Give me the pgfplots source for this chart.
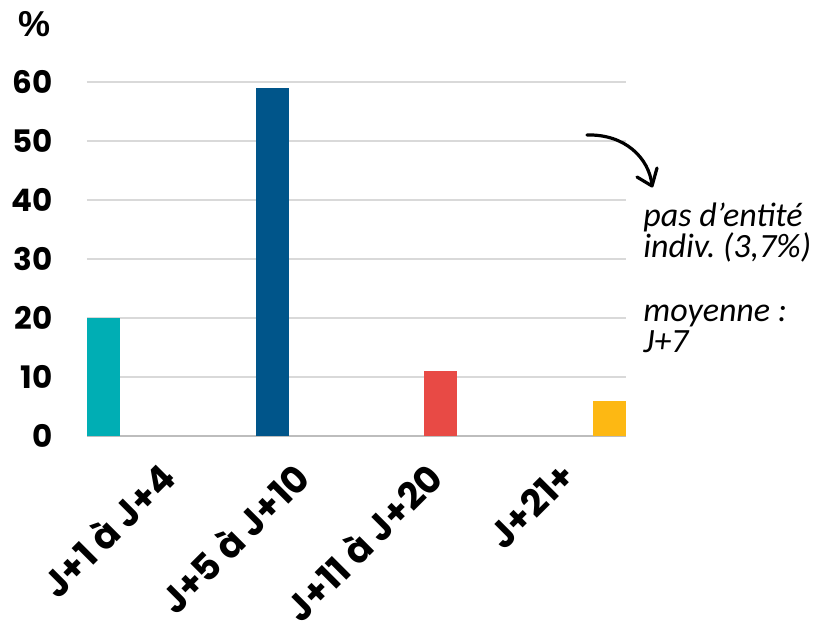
\documentclass[border=0pt]{standalone}
\usepackage{fontspec}
\setmainfont{Liberation Sans}
\newfontfamily\pop{Poppins}
\newfontfamily\carl{Carlito}
\usepackage{pgfplots}
\pgfplotsset{compat=1.18}
\definecolor{cteal}{HTML}{00AEB4}
\definecolor{cblue}{HTML}{00558A}
\definecolor{cred}{HTML}{E84A45}
\definecolor{cyel}{HTML}{FDB813}
\definecolor{cgrid}{HTML}{D9D9D9}
\definecolor{caxis}{HTML}{BDBDBD}
\frenchspacing

\begin{document}
\begin{tikzpicture}
% page frame, in pixels of the reference
\begin{scope}[x=0.5pt,y=-0.5pt,shift={(-43.5pt,218pt)}]
\useasboundingbox (0,0) rectangle (840,624);
\end{scope}

\begin{axis}[
    at={(0,0)}, anchor=south west,
    scale only axis, width=269.5pt, height=177pt,
    xmin=-0.0978, xmax=3.0978,
    ymin=0, ymax=60,
    axis lines*=left,
    y axis line style={draw=none},
    x axis line style={draw=caxis, line width=0.9pt},
    ytick={0,10,...,60},
    xtick={0.18,0.975,1.765,2.56},
    xticklabels={J+1 à J+4, J+5 à J+10, J+11 à J+20, J+21+},
    major tick length=0pt,
    ymajorgrids,
    grid style={cgrid, line width=0.6pt},
    /pgf/number format/assume math mode=true,
    yticklabel style={font=\pop\bfseries\fontsize{15.5}{16}\selectfont,
        anchor=east, inner sep=0pt, xshift=-17pt},
    xticklabel style={font=\pop\bfseries\fontsize{18.5}{18.5}\selectfont,
        rotate=45, anchor=north east, inner sep=0pt, yshift=-16pt},
]
\addplot[ybar, bar width=0.1957, bar shift=0pt, fill=cteal, draw=none] coordinates {(0,20)};
\addplot[ybar, bar width=0.1957, bar shift=0pt, fill=cblue, draw=none] coordinates {(1,59)};
\addplot[ybar, bar width=0.1957, bar shift=0pt, fill=cred, draw=none] coordinates {(2,11)};
\addplot[ybar, bar width=0.1957, bar shift=0pt, fill=cyel, draw=none] coordinates {(3,6)};
\end{axis}

% unit label, note and arrow
\begin{scope}[x=0.5pt,y=-0.5pt,shift={(-43.5pt,218pt)}]
\node[anchor=base, inner sep=0pt, font=\bfseries\fontsize{18}{18}\selectfont] at (35,37) {\%};
\tikzset{note/.style={anchor=base west, inner sep=0pt, font=\carl\itshape\fontsize{17}{16}\selectfont}}
\node[note] at (643,226) {pas d’entité};
\node[note] at (643,257) {indiv. (3,7\%)};
\node[note] at (643,321) {moyenne :};
\node[note] at (643,352) {J+7};
\draw[line width=1.6pt, line cap=round] (587,135) .. controls (625,134) and (649,158) .. (652,185);
\draw[line width=1.6pt, line cap=round, line join=round] (637,177) -- (652,186) -- (657,168);
\end{scope}
\end{tikzpicture}
\end{document}
